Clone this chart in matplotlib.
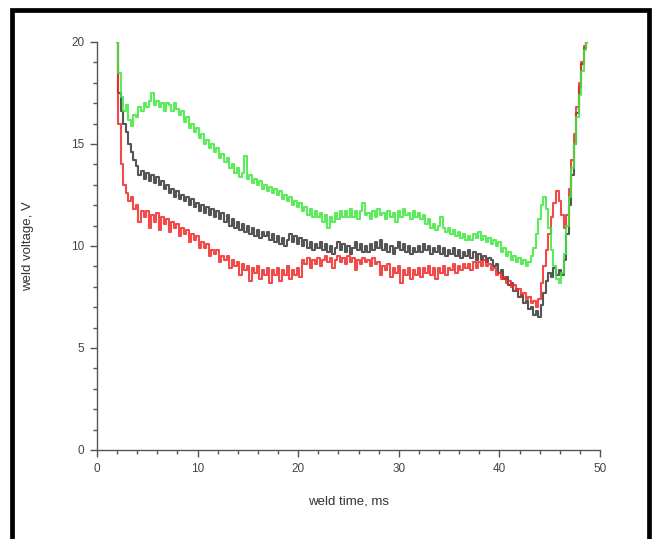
import numpy as np
import matplotlib
matplotlib.use('Agg')
import matplotlib.pyplot as plt
from matplotlib.patches import Rectangle
from matplotlib.ticker import MultipleLocator

plt.rcParams['font.family'] = ['Liberation Sans', 'DejaVu Sans']

# sample times, ms (0.25 ms step from 2 to 48.75)
t = np.arange(188) * 0.25 + 2.0

# weld voltage traces, V
green = [
    20.0, 18.5, 17.3, 16.6, 16.9, 16.2, 15.9, 16.4, 16.3, 16.8, 16.6, 17.0, 16.8, 17.1, 17.5, 16.9, 17.1, 16.8, 17.0, 16.6,
    17.0, 16.9, 16.6, 17.0, 16.7, 16.4, 16.6, 16.1, 16.3, 15.8, 16.0, 15.6, 15.8, 15.3, 15.5, 15.0, 15.2, 14.8, 15.0, 14.6,
    14.8, 14.3, 14.5, 14.1, 14.3, 13.8, 14.0, 13.6, 13.8, 13.4, 13.6, 14.4, 13.3, 13.5, 13.1, 13.3, 13.0, 13.2, 12.8, 13.0,
    12.7, 12.9, 12.6, 12.8, 12.5, 12.7, 12.3, 12.5, 12.2, 12.4, 12.0, 12.2, 11.9, 12.1, 11.7, 11.9, 11.5, 11.8, 11.4, 11.7,
    11.4, 11.6, 11.2, 11.5, 10.9, 11.4, 11.2, 11.6, 11.3, 11.7, 11.4, 11.7, 11.4, 11.8, 11.4, 11.7, 11.3, 11.7, 12.1, 11.5,
    11.6, 11.3, 11.7, 11.4, 11.8, 11.5, 11.6, 11.3, 11.7, 11.4, 11.6, 11.2, 11.7, 11.4, 11.8, 11.5, 11.6, 11.3, 11.7, 11.4,
    11.6, 11.3, 11.5, 11.1, 11.3, 10.9, 11.1, 10.8, 11.0, 11.4, 10.9, 10.7, 10.9, 10.6, 10.8, 10.5, 10.7, 10.4, 10.6, 10.3,
    10.5, 10.3, 10.6, 10.4, 10.7, 10.3, 10.5, 10.2, 10.4, 10.1, 10.3, 10.0, 10.2, 9.7, 9.9, 9.5, 9.7, 9.3, 9.5, 9.2,
    9.4, 9.1, 9.3, 9.0, 9.2, 9.5, 9.9, 10.6, 11.3, 12.0, 12.4, 11.8, 10.9, 9.8, 9.0, 8.4, 8.2, 8.7, 9.6, 11.0,
    12.4, 13.8, 15.0, 16.3, 17.4, 18.6, 19.6, 20.0,
]
black = [
    20.0, 17.5, 16.6, 16.0, 15.6, 15.0, 14.6, 14.2, 13.9, 13.5, 13.7, 13.3, 13.6, 13.2, 13.5, 13.1, 13.4, 13.0, 13.2, 12.8,
    13.0, 12.6, 12.8, 12.4, 12.7, 12.3, 12.5, 12.2, 12.4, 12.0, 12.3, 11.9, 12.1, 11.7, 12.0, 11.6, 11.9, 11.5, 11.8, 11.4,
    11.7, 11.3, 11.6, 11.2, 11.5, 11.0, 11.3, 10.9, 11.2, 10.8, 11.1, 10.7, 11.0, 10.6, 10.9, 10.5, 10.8, 10.4, 10.7, 10.5,
    10.7, 10.3, 10.6, 10.2, 10.5, 10.1, 10.4, 10.0, 10.3, 10.6, 10.2, 10.5, 10.1, 10.4, 10.0, 10.3, 9.9, 10.2, 9.8, 10.1,
    9.9, 10.2, 9.8, 10.1, 9.7, 10.0, 9.6, 9.9, 10.2, 9.8, 10.1, 9.7, 10.0, 9.6, 9.9, 10.2, 9.8, 10.1, 9.7, 10.0,
    9.7, 10.1, 9.8, 10.2, 9.9, 10.3, 9.8, 10.1, 9.7, 10.0, 9.6, 9.9, 10.2, 9.8, 10.1, 9.7, 10.0, 9.6, 9.9, 9.7,
    10.0, 9.7, 10.1, 9.8, 10.0, 9.6, 9.9, 9.7, 10.0, 9.6, 9.9, 9.5, 9.8, 9.6, 9.9, 9.5, 9.8, 9.4, 9.7, 9.5,
    9.8, 9.4, 9.7, 9.3, 9.6, 9.3, 9.5, 9.2, 9.4, 9.3, 9.0, 9.1, 8.7, 8.8, 8.4, 8.5, 8.1, 8.2, 7.8, 7.9,
    7.5, 7.6, 7.2, 7.3, 6.9, 7.0, 6.6, 6.8, 6.5, 7.1, 7.7, 8.3, 8.7, 8.5, 8.9, 8.6, 8.8, 8.6, 9.3, 10.6,
    12.0, 13.5, 15.0, 16.5, 17.8, 18.9, 19.7, 20.0,
]
red = [
    20.0, 16.0, 14.0, 13.0, 12.6, 12.2, 12.4, 11.8, 12.0, 11.2, 11.7, 11.4, 11.7, 10.9, 11.5, 11.2, 11.6, 10.8, 11.4, 11.1,
    11.3, 10.7, 11.2, 10.9, 11.1, 10.5, 10.9, 10.6, 10.8, 10.2, 10.6, 10.3, 10.5, 9.9, 10.2, 9.9, 10.1, 9.5, 9.8, 9.6,
    9.8, 9.2, 9.5, 9.3, 9.5, 8.9, 9.3, 9.0, 9.2, 8.6, 9.1, 8.8, 9.0, 8.3, 8.9, 8.7, 9.0, 8.4, 8.8, 8.6,
    8.9, 8.2, 8.8, 8.6, 8.9, 8.3, 8.8, 8.6, 9.0, 8.4, 8.8, 8.6, 8.9, 8.5, 9.3, 9.1, 9.4, 8.9, 9.3, 9.1,
    9.4, 9.0, 9.3, 9.5, 9.2, 9.4, 8.9, 9.3, 9.5, 9.2, 9.4, 9.1, 9.5, 9.2, 9.4, 8.8, 9.3, 9.1, 9.4, 9.2,
    9.3, 9.0, 9.4, 9.1, 9.2, 8.6, 9.0, 8.8, 9.1, 8.5, 8.9, 8.7, 9.0, 8.2, 8.8, 8.6, 8.9, 8.4, 8.8, 8.6,
    8.9, 8.5, 8.9, 8.7, 9.0, 8.6, 8.9, 8.4, 8.9, 8.7, 9.0, 8.6, 8.9, 8.8, 9.1, 8.7, 9.0, 8.8, 9.1, 8.9,
    9.1, 8.8, 9.2, 8.9, 9.2, 9.0, 9.3, 9.0, 9.1, 8.8, 8.9, 8.6, 8.7, 8.4, 8.5, 8.2, 8.3, 8.0, 8.1, 7.8,
    7.9, 7.6, 7.7, 7.4, 7.5, 7.2, 7.3, 7.0, 7.4, 8.2, 9.0, 9.8, 10.6, 11.4, 12.1, 12.7, 12.2, 11.5, 10.9, 11.5,
    12.8, 14.2, 15.5, 16.8, 18.0, 19.0, 19.8, 20.0,
]

fig = plt.figure(figsize=(6.52, 5.39), dpi=100)
ax = fig.add_axes([97 / 652, 89 / 539, 503 / 652, 408 / 539])

ax.plot(t, black, color='#2a2a2a', lw=1.5, drawstyle='steps-mid', alpha=0.8)
ax.plot(t, red, color='#ee2a2a', lw=1.5, drawstyle='steps-mid', alpha=0.85)
ax.plot(t, green, color='#3ee83e', lw=1.5, drawstyle='steps-mid', alpha=0.85)

ax.set_xlim(0, 50)
ax.set_ylim(0, 20)
ax.xaxis.set_major_locator(MultipleLocator(10))
ax.xaxis.set_minor_locator(MultipleLocator(2))
ax.yaxis.set_major_locator(MultipleLocator(5))
ax.yaxis.set_minor_locator(MultipleLocator(1))

for s in ['top', 'right']:
    ax.spines[s].set_visible(False)
for s in ['left', 'bottom']:
    ax.spines[s].set_color('#555555')
    ax.spines[s].set_linewidth(1.0)

ax.tick_params(which='major', direction='out', length=5, width=1, color='#555555',
               labelsize=8.5, labelcolor='#444444', pad=4)
ax.tick_params(which='minor', direction='out', length=3, width=1, color='#555555')

ax.set_xlabel('weld time, ms', fontsize=9.5, color='#333333', labelpad=15)
ax.set_ylabel('weld voltage, V', fontsize=9.5, color='#333333', labelpad=27)

# black frame around the picture
fig.add_artist(Rectangle((11.5 / 652, -0.05), (649 - 11.5) / 652, 1.05 - 10 / 539,
                         transform=fig.transFigure, fill=False, edgecolor='black', lw=3.4))

fig.savefig('out.png', dpi=100)
